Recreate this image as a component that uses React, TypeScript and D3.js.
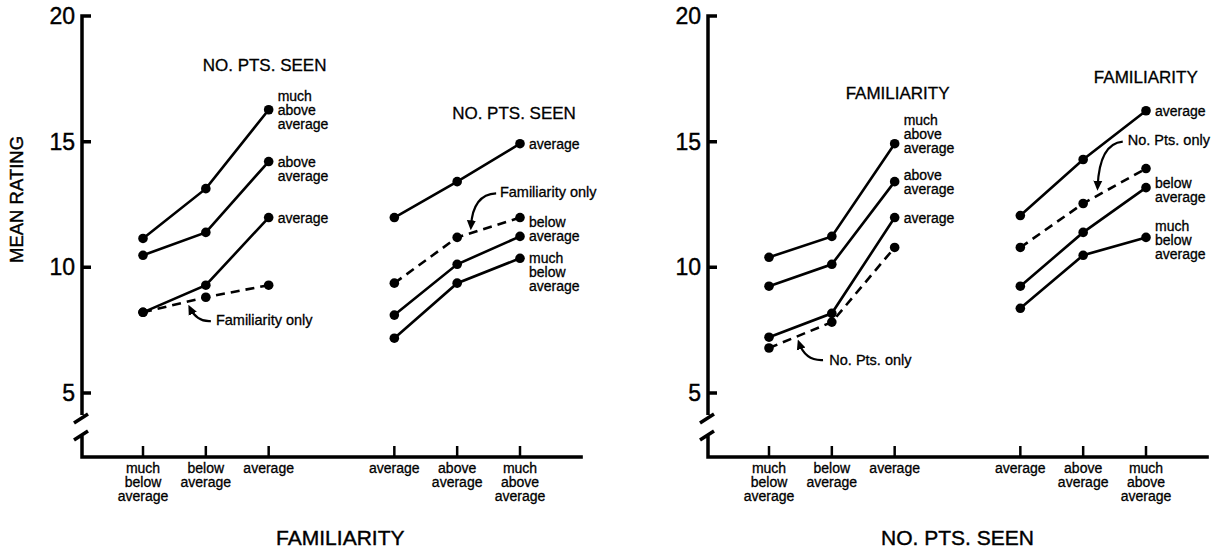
import React from "react";
import * as d3 from "d3";

// x axis categories: three low levels, a gap, then three high levels
const lowLevels = ["much below average", "below average", "average"];
const highLevels = ["average", "above average", "much above average"];
const lowSlots = [0, 1, 2];
const highSlots = [4, 5, 6];
const yTicks = [20, 15, 10, 5];

// left panel: x = familiarity, one line per no. of points seen
const leftLowMuchAbove = [11.15, 13.13, 16.27];
const leftLowAbove = [10.48, 11.39, 14.21];
const leftLowAverage = [8.21, 9.29, 11.98];
const leftLowFamOnly = [8.21, 8.81, 9.29];
const leftHighAverage = [11.98, 13.41, 14.92];
const leftHighFamOnly = [9.37, 11.19, 11.98];
const leftHighBelow = [8.1, 10.12, 11.23];
const leftHighMuchBelow = [7.18, 9.37, 10.36];

// right panel: x = no. of points seen, one line per familiarity level
const rightLowMuchAbove = [10.4, 11.23, 14.92];
const rightLowAbove = [9.25, 10.12, 13.41];
const rightLowAverage = [7.22, 8.17, 11.98];
const rightLowPtsOnly = [6.79, 7.82, 10.79];
const rightHighAverage = [12.06, 14.29, 16.23];
const rightHighPtsOnly = [10.79, 12.54, 13.93];
const rightHighBelow = [9.25, 11.39, 13.17];
const rightHighMuchBelow = [8.37, 10.48, 11.19];

const FONT = "'Liberation Sans', Arial, Helvetica, sans-serif";

const y = d3.scaleLinear().domain([5, 20]).range([393, 16]);

type Series = { label?: string; values: number[]; slots: number[]; dashed?: boolean; anchor?: number };
type Note = { text: string; at: number[]; from?: number[]; ctrl?: number[]; to?: number[] };

const leftSeries: Series[] = [
  { label: "much above average", values: leftLowMuchAbove, slots: lowSlots, anchor: 1 },
  { label: "above average", values: leftLowAbove, slots: lowSlots, anchor: 0 },
  { label: "average", values: leftLowAverage, slots: lowSlots, anchor: 0 },
  { values: leftLowFamOnly, slots: lowSlots, dashed: true },
  { label: "average", values: leftHighAverage, slots: highSlots, anchor: 0 },
  { values: leftHighFamOnly, slots: highSlots, dashed: true },
  { label: "below average", values: leftHighBelow, slots: highSlots, anchor: 1 },
  { label: "much below average", values: leftHighMuchBelow, slots: highSlots, anchor: 0 },
];

const rightSeries: Series[] = [
  { label: "much above average", values: rightLowMuchAbove, slots: lowSlots, anchor: 1.7 },
  { label: "above average", values: rightLowAbove, slots: lowSlots, anchor: 0.5 },
  { label: "average", values: rightLowAverage, slots: lowSlots, anchor: 0 },
  { values: rightLowPtsOnly, slots: lowSlots, dashed: true },
  { label: "average", values: rightHighAverage, slots: highSlots, anchor: 0 },
  { values: rightHighPtsOnly, slots: highSlots, dashed: true },
  { label: "below average", values: rightHighBelow, slots: highSlots, anchor: 0.3 },
  { label: "much below average", values: rightHighMuchBelow, slots: highSlots, anchor: 0.85 },
];

const leftTitles: Note[] = [
  { text: "NO. PTS. SEEN", at: [0.95, 17.82] },
  { text: "NO. PTS. SEEN", at: [4.92, 15.91] },
];
const leftNotes: Note[] = [
  { text: "Familiarity only", at: [1.16, 7.7], from: [1.08, 7.86], ctrl: [0.86, 7.82], to: [0.75, 8.37] },
  { text: "Familiarity only", at: [5.68, 12.78], from: [5.62, 12.94], ctrl: [5.25, 12.9], to: [5.22, 11.63] },
];
const rightTitles: Note[] = [
  { text: "FAMILIARITY", at: [1.22, 16.71] },
  { text: "FAMILIARITY", at: [5.17, 17.34] },
];
const rightNotes: Note[] = [
  { text: "No. Pts. only", at: [0.96, 6.11], from: [0.86, 6.31], ctrl: [0.58, 6.27], to: [0.48, 6.98] },
  { text: "No. Pts. only", at: [5.71, 14.88], from: [5.63, 15.0], ctrl: [5.26, 14.92], to: [5.23, 13.21] },
];

function Panel(props: {
  offset: number;
  axisTitle: string;
  titleSlot: number;
  yLabel?: string;
  series: Series[];
  titles: Note[];
  notes: Note[];
}) {
  const { offset, axisTitle, titleSlot, yLabel, series, titles, notes } = props;
  const x = d3.scaleLinear().domain([0, 6]).range([143 + offset, 520 + offset]);
  const ax = x(0) - 61;
  const axEnd = x(7);
  const y5 = y(5);
  const base = y5 + 64;

  const axisPath =
    `M${ax + 9},${y(20)}H${ax}V${y5 + 22}` +
    `M${ax - 8},${y5 + 30}L${ax + 6},${y5 + 21}` +
    `M${ax - 8},${y5 + 47}L${ax + 6},${y5 + 38}` +
    `M${ax},${y5 + 41}V${base}H${axEnd}` +
    yTicks.slice(1).map((t) => `M${ax},${y(t)}h9`).join("");

  const cats = [...lowSlots.map((s, i) => [s, lowLevels[i]]), ...highSlots.map((s, i) => [s, highLevels[i]])] as [number, string][];

  // slight stroke on the text to get closer to the heavy print of the scan
  return (
    <g fontFamily={FONT} stroke="none">
      <path d={axisPath} fill="none" stroke="#000" strokeWidth={3.5} />
      <g stroke="#000" strokeWidth={0.4}>
        {yTicks.map((t) => (
          <text key={t} x={ax - 7} y={y(t) + 8} textAnchor="end" fontSize={23}>
            {t}
          </text>
        ))}
        {yLabel && (
          <text transform={`translate(23,${y(12.7)}) rotate(-90)`} textAnchor="middle" fontSize={18.5}>
            {yLabel}
          </text>
        )}
        <text x={x(titleSlot)} y={base + 88} textAnchor="middle" fontSize={21}>
          {axisTitle}
        </text>
      </g>
      {cats.map(([s, name]) => (
        <g key={s}>
          <line x1={x(s)} x2={x(s)} y1={base} y2={base - 11} stroke="#000" strokeWidth={2.5} />
          {name.split(" ").map((w, i) => (
            <text key={i} x={x(s)} y={base + 16 + i * 14} textAnchor="middle" fontSize={14} stroke="#000" strokeWidth={0.3}>
              {w}
            </text>
          ))}
        </g>
      ))}

      {series.map((s, k) => {
        const line = d3
          .line<number>()
          .x((_, i) => x(s.slots[i]))
          .y((d) => y(d));
        const last = s.values.length - 1;
        return (
          <g key={k}>
            <path
              d={line(s.values) || ""}
              fill="none"
              stroke="#000"
              strokeWidth={2.6}
              strokeDasharray={s.dashed ? "9,6" : undefined}
            />
            {s.values.map((v, i) => (
              <circle key={i} cx={x(s.slots[i])} cy={y(v)} r={4.8} fill="#000" />
            ))}
            {s.label &&
              s.label.split(" ").map((w, i) => (
                <text
                  key={i}
                  x={x(s.slots[last]) + 9}
                  y={y(s.values[last]) + 5 + (i - (s.anchor || 0)) * 14}
                  fontSize={14}
                  stroke="#000"
                  strokeWidth={0.3}
                >
                  {w}
                </text>
              ))}
          </g>
        );
      })}

      {titles.map((t, i) => (
        <text key={i} x={x(t.at[0])} y={y(t.at[1])} fontSize={17} stroke="#000" strokeWidth={0.3}>
          {t.text}
        </text>
      ))}
      {notes.map((n, i) => (
        <g key={i}>
          <text x={x(n.at[0])} y={y(n.at[1])} fontSize={14.5} stroke="#000" strokeWidth={0.3}>
            {n.text}
          </text>
          {n.from && n.ctrl && n.to && (
            <path
              d={`M${x(n.from[0])},${y(n.from[1])}Q${x(n.ctrl[0])},${y(n.ctrl[1])} ${x(n.to[0])},${y(n.to[1])}`}
              fill="none"
              stroke="#000"
              strokeWidth={2.2}
              markerEnd="url(#arrowhead)"
            />
          )}
        </g>
      ))}
    </g>
  );
}

export default function App() {
  return (
    <svg
      width={1229}
      height={550}
      style={{ position: "absolute", left: 0, top: 0, background: "#fff" }}
    >
      <defs>
        <marker
          id="arrowhead"
          viewBox="0 0 10 10"
          refX={6}
          refY={5}
          markerWidth={10}
          markerHeight={10}
          markerUnits="userSpaceOnUse"
          orient="auto"
        >
          <path d="M0,0.5 L10,5 L0,9.5 z" fill="#000" />
        </marker>
      </defs>
      <Panel
        offset={0}
        axisTitle="FAMILIARITY"
        titleSlot={3.14}
        yLabel="MEAN RATING"
        series={leftSeries}
        titles={leftTitles}
        notes={leftNotes}
      />
      <Panel
        offset={626}
        axisTitle="NO. PTS. SEEN"
        titleSlot={3}
        series={rightSeries}
        titles={rightTitles}
        notes={rightNotes}
      />
    </svg>
  );
}
